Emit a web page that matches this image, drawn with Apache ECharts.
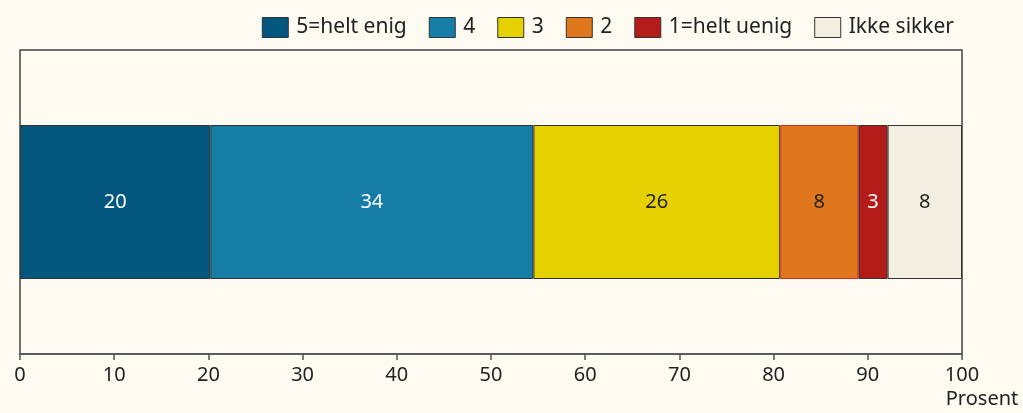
<!DOCTYPE html>
<html>
<head>
<meta charset="utf-8">
<script src="https://cdn.jsdelivr.net/npm/echarts@6/dist/echarts.min.js"></script>
<style>
  html, body { margin: 0; padding: 0; background: #fefbf3; }
  #chart { width: 1023px; height: 413px; }
</style>
</head>
<body>
<div id="chart"></div>
<script>
// svaralternativer og andel (prosent)
var seriesNames = ['5=helt enig', '4', '3', '2', '1=helt uenig', 'Ikke sikker'];
var values = [20.2, 34.3, 26.2, 8.3, 3.1, 7.9];
var colors = ['#03577e', '#167ea6', '#e5d100', '#e0771c', '#b31c18', '#f2eee0'];
var labelColors = ['#ffffff', '#ffffff', '#222222', '#222222', '#ffffff', '#222222'];
var xTicks = [0, 10, 20, 30, 40, 50, 60, 70, 80, 90, 100];

var chart = echarts.init(document.getElementById('chart'));

var series = seriesNames.map(function (name, i) {
  return {
    name: name,
    type: 'bar',
    stack: 'total',
    barWidth: 154,
    data: [values[i]],
    itemStyle: {
      color: colors[i],
      borderColor: i === 3 ? '#c9302a' : '#333333',
      borderWidth: 1
    },
    label: {
      show: true,
      position: 'inside',
      color: labelColors[i],
      fontSize: 20,
      fontFamily: 'Noto Sans',
      formatter: function (p) { return Math.round(p.value); }
    }
  };
});

var option = {
  backgroundColor: '#fefbf3',
  animation: false,
  legend: {
    right: 64,
    top: 12,
    itemWidth: 26,
    itemHeight: 20,
    itemGap: 22,
    icon: 'rect',
    itemStyle: { borderColor: '#333333', borderWidth: 1 },
    textStyle: { fontSize: 21, color: '#222222', fontFamily: 'Noto Sans', padding: [0, 0, 0, 3] },
    data: seriesNames
  },
  grid: {
    left: 20,
    right: 61,
    top: 50,
    bottom: 59,
    show: true,
    borderColor: '#444444',
    borderWidth: 1.5,
    backgroundColor: 'transparent'
  },
  xAxis: {
    type: 'value',
    min: xTicks[0],
    max: xTicks[xTicks.length - 1],
    interval: 10,
    name: 'Prosent',
    nameLocation: 'end',
    nameGap: 20,
    nameTextStyle: {
      fontSize: 20,
      color: '#222222',
      fontFamily: 'Noto Sans',
      align: 'center',
      verticalAlign: 'top',
      padding: [35, 0, 0, 0]
    },
    axisLine: { show: true, lineStyle: { color: '#555555', width: 1.5 } },
    axisTick: { show: true, length: 6, lineStyle: { color: '#555555', width: 1.5 } },
    axisLabel: { fontSize: 20, color: '#222222', fontFamily: 'Noto Sans', margin: 11 },
    splitLine: { show: false }
  },
  yAxis: {
    type: 'category',
    data: [''],
    axisLine: { show: false },
    axisTick: { show: false },
    axisLabel: { show: false }
  },
  series: series
};

chart.setOption(option);
</script>
</body>
</html>
